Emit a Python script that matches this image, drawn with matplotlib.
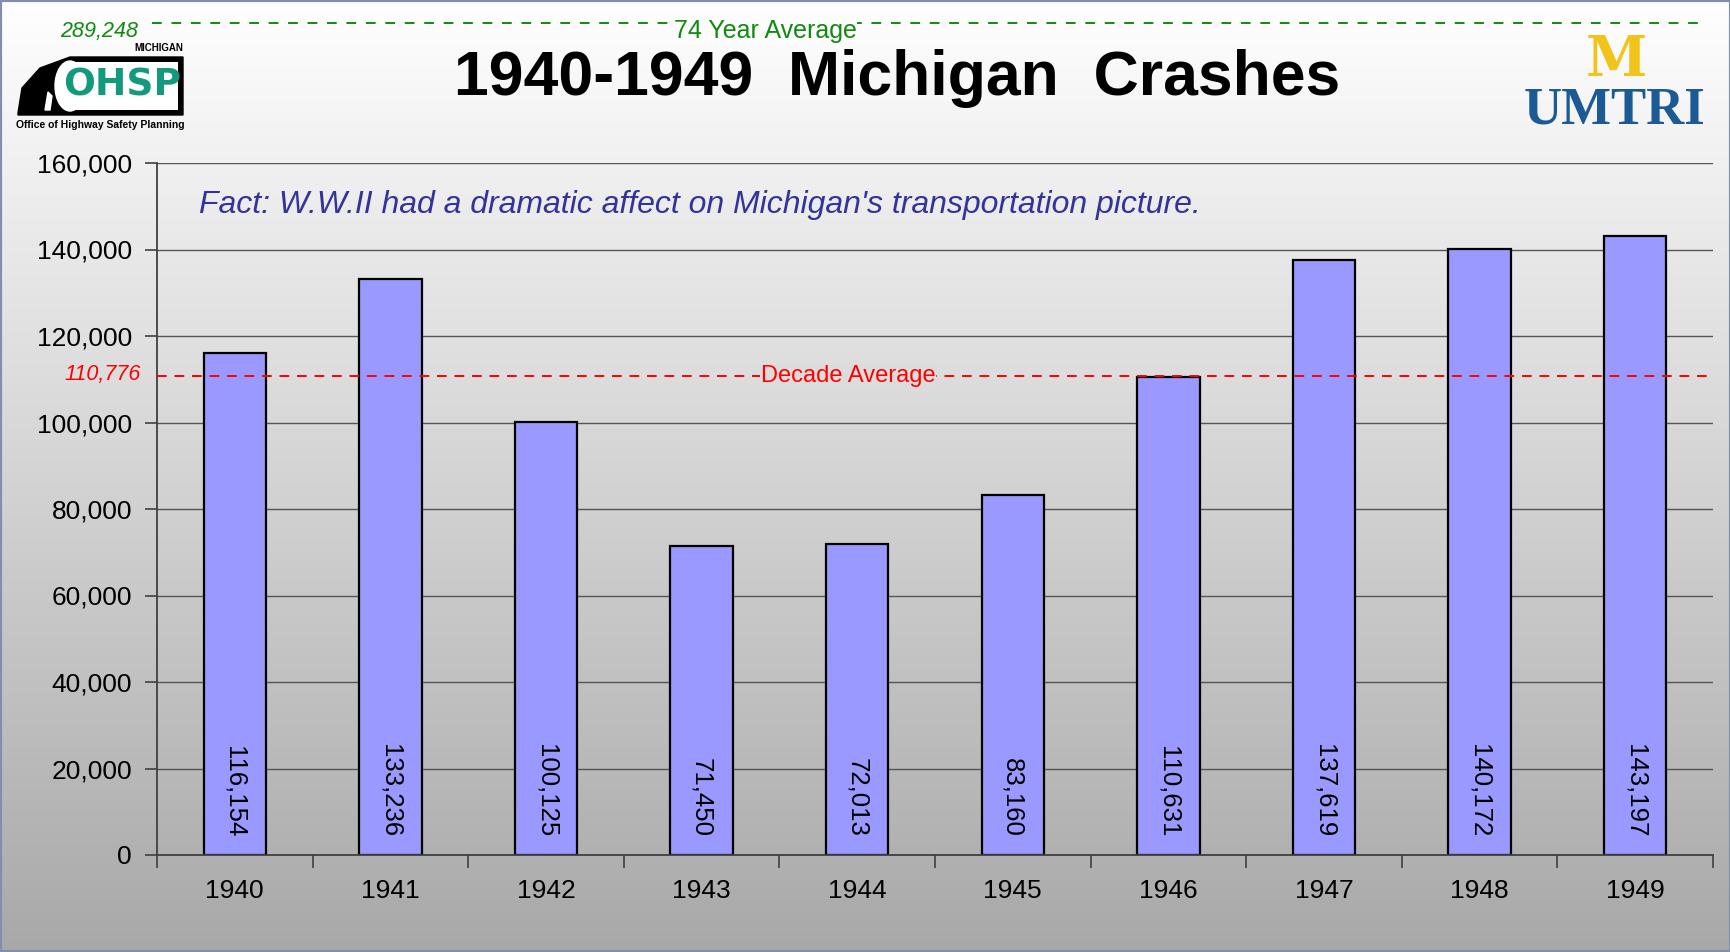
#!/usr/bin/env python3

import numpy as np
import matplotlib
matplotlib.use("Agg")
import matplotlib.pyplot as plt
from matplotlib.patches import Rectangle, Polygon, Ellipse
from matplotlib.lines import Line2D
from matplotlib.ticker import FuncFormatter, MultipleLocator

plt.rcParams['font.family'] = ['Liberation Sans', 'DejaVu Sans']

years = ['1940', '1941', '1942', '1943', '1944', '1945', '1946', '1947', '1948', '1949']
crashes = [116154, 133236, 100125, 71450, 72013, 83160, 110631, 137619, 140172, 143197]
decade_avg = 110776
avg_74yr = 289248

W, H = 1731, 952


def fx(px):
    return px / W


def fy(py):
    return 1 - py / H


fig = plt.figure(figsize=(W / 100, H / 100), dpi=100)

# gradient background, white at top to grey at bottom
bg = fig.add_axes([0, 0, 1, 1], zorder=-10)
grad = np.linspace(1.0, 0.66, 256).reshape(-1, 1)
bg.imshow(np.dstack([grad, grad, grad]), aspect='auto', extent=[0, 1, 0, 1])
bg.axis('off')

ax = fig.add_axes([fx(157), fy(855), fx(1713) - fx(157), fy(163) - fy(855)])
ax.patch.set_alpha(0)

x = np.arange(len(years))
ax.bar(x, crashes, width=0.4, color='#9999ff', edgecolor='black', linewidth=1.6, zorder=3)

for xi, v in zip(x, crashes):
    ax.annotate(f'{v:,}', xy=(xi, 0), xytext=(0, 13), textcoords='offset points',
                rotation=270, ha='center', va='bottom', fontsize=18.5, zorder=4)

ax.set_xlim(-0.5, len(years) - 0.5)
ax.set_ylim(0, 160000)
ax.yaxis.set_major_locator(MultipleLocator(20000))
ax.yaxis.set_major_formatter(FuncFormatter(lambda v, p: f'{int(v):,}'))
ax.set_xticks(x)
ax.set_xticklabels(years)
ax.set_xticks(np.arange(-0.5, len(years)), minor=True)
ax.tick_params(axis='x', which='major', length=0, labelsize=19, pad=17)
ax.tick_params(axis='x', which='minor', length=9, width=1.2, color='#404040', direction='out')
ax.tick_params(axis='y', length=9, width=1.2, color='#404040', labelsize=19, pad=9)

ax.grid(axis='y', color='#555555', linewidth=1.0, zorder=0)
for s in ['top', 'right']:
    ax.spines[s].set_visible(False)
for s in ['left', 'bottom']:
    ax.spines[s].set_color('#404040')
    ax.spines[s].set_linewidth(1.3)
ax.spines['bottom'].set_zorder(5)

# decade average
ax.axhline(decade_avg, color='red', linestyle=(0, (5, 4)), linewidth=1.4, zorder=4)
ax.annotate(f'{decade_avg:,}', xy=(0, decade_avg), xycoords=('axes fraction', 'data'),
            xytext=(-12, 1), textcoords='offset points', ha='right', va='center',
            color='red', fontsize=15.5, style='italic')
ax.text(0.444, decade_avg, 'Decade Average', transform=ax.get_yaxis_transform(),
        ha='center', va='center', color='red', fontsize=17, zorder=5,
        bbox=dict(facecolor='#dcdcdc', edgecolor='none', pad=0.5))

ax.text(0.027, 0.94, "Fact: W.W.II had a dramatic affect on Michigan's transportation picture.",
        transform=ax.transAxes, ha='left', va='center', color='#333399',
        fontsize=23, style='italic')

# 74 year average (off the chart scale)
fig.add_artist(Line2D([fx(152), fx(1700)], [fy(23), fy(23)], color='#108a10',
                      linestyle=(0, (5, 5)), linewidth=1.4))
fig.text(fx(138), fy(31), f'{avg_74yr:,}', ha='right', va='center', color='#108a10',
         fontsize=15.5, style='italic')
fig.text(fx(765), fy(31), '74 Year Average', ha='center', va='center', color='#108a10',
         fontsize=18, bbox=dict(facecolor='#fcfcfc', edgecolor='none', pad=0.5))

fig.text(fx(897), fy(78), '1940-1949  Michigan  Crashes', ha='center', va='center',
         fontsize=45, fontweight='bold')

# OHSP logo
lg = fig.add_axes([fx(15), fy(133), fx(190) - fx(15), fy(38) - fy(133)])
lg.set_xlim(15, 190)
lg.set_ylim(133, 38)
lg.axis('off')
lg.add_patch(Polygon([[18, 113], [22, 88], [40, 68], [70, 57], [183, 57], [183, 115], [18, 115]],
                     closed=True, color='black'))
lg.add_patch(Rectangle((66, 62), 112, 48, facecolor='white', edgecolor='none'))
lg.add_patch(Ellipse((70, 86), 30, 50, color='white'))
lg.add_patch(Polygon([[45, 110], [48, 92], [52, 96], [50, 110]], color='white'))
lg.text(122, 85, 'OHSP', ha='center', va='center', fontsize=27, fontweight='bold',
        color='#139a7c', family='DejaVu Sans')
lg.text(183, 48, 'MICHIGAN', ha='right', va='center', fontsize=7, fontweight='bold')
lg.text(100, 125, 'Office of Highway Safety Planning', ha='center', va='center',
        fontsize=7.5, fontweight='bold')

# UMTRI logo
fig.text(fx(1616), fy(60), 'M', ha='center', va='center', fontsize=40, fontweight='bold',
         color='#f2c31b', family='DejaVu Serif')
fig.text(fx(1615), fy(111), 'UMTRI', ha='center', va='center', fontsize=38,
         fontweight='bold', color='#1c5a96', family='Liberation Serif')

fig.add_artist(Rectangle((0, 0), 1, 1, transform=fig.transFigure, fill=False,
                         edgecolor='#8090aa', linewidth=3))

fig.savefig('out.png', dpi=100)
